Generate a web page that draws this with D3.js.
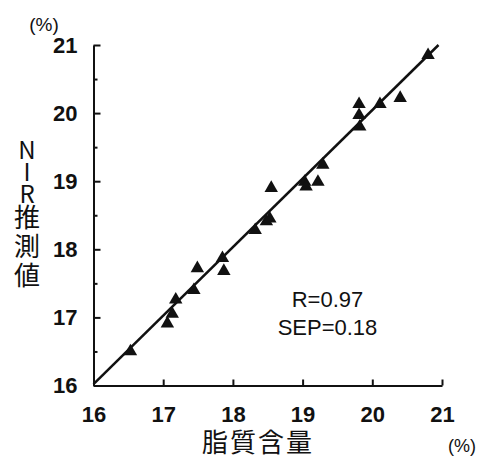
<!DOCTYPE html>
<html>
<head>
<meta charset="utf-8">
<script src="https://cdn.jsdelivr.net/npm/d3@7"></script>
<style>
  body { margin: 0; background: #fff; }
  svg { display: block; }
  .tick text { font-family: "Liberation Sans", Arial, sans-serif; font-weight: bold; font-size: 22px; fill: #111; }
  .domain, .tick line { stroke: #111; stroke-width: 2; }
</style>
</head>
<body>
<svg width="481" height="457"></svg>
<script>
// measured fat content (x) vs NIR predicted (y), %
const fatValues = [16.53, 17.06, 17.13, 17.18, 17.44, 17.49, 17.85, 17.87, 18.32, 18.48, 18.53,
  18.55, 19.03, 19.05, 19.22, 19.29, 19.81, 19.81, 19.82, 20.11, 20.40, 20.80];
const nirValues = [16.50, 16.91, 17.05, 17.26, 17.40, 17.72, 17.87, 17.68, 18.28, 18.41, 18.45,
  18.90, 18.99, 18.92, 18.99, 19.24, 20.13, 19.97, 19.80, 20.13, 20.22, 20.85];
const fitX = [16, 20.95];
const fitY = [16.02, 21.0];
const majorTicks = [16, 17, 18, 19, 20, 21];
const minorTicks = [16.5, 17.5, 18.5, 19.5, 20.5];
const statLines = ["R=0.97", "SEP=0.18"];
const yTitleParts = ["NIR", "推測値"];
const xTitle = "脂質含量";

var svg = d3.select("svg");
var width = +svg.attr("width");
var height = +svg.attr("height");

var margin = { top: 45, right: 39, bottom: 71.5, left: 93.5 };
var innerWidth = width - margin.left - margin.right;
var innerHeight = height - margin.top - margin.bottom;

const xScale = d3.scaleLinear().domain([16, 21]).range([0, innerWidth]);
const yScale = d3.scaleLinear().domain([16, 21]).range([innerHeight, 0]);

const g = svg.append("g")
  .attr("transform", `translate(${margin.left}, ${margin.top})`);

// y axis: ticks point inward, short minor ticks at the halves
g.append("g")
  .call(d3.axisLeft(yScale).tickValues(minorTicks).tickSize(-4).tickFormat(""))
  .call((a) => a.select(".domain").remove())
  .call((a) => a.selectAll(".tick text").remove());
g.append("g")
  .call(d3.axisLeft(yScale).tickValues(majorTicks).tickSizeInner(-7).tickSizeOuter(0)
    .tickPadding(16).tickFormat(d3.format("d")));

// x axis
const xAxis = g.append("g")
  .attr("transform", `translate(0, ${innerHeight})`)
  .call(d3.axisBottom(xScale).tickValues(majorTicks).tickSizeInner(-6).tickSizeOuter(0)
    .tickFormat(d3.format("d")));
xAxis.selectAll(".tick text").attr("dy", "0.35em").attr("y", 29);

// regression line
const line = d3.line()
  .x((d) => xScale(d[0]))
  .y((d) => yScale(d[1]));
g.append("path")
  .datum(d3.zip(fitX, fitY))
  .attr("d", line)
  .attr("fill", "none")
  .attr("stroke", "#111")
  .attr("stroke-width", 2.5);

// triangles
g.selectAll(".pt")
  .data(d3.zip(fatValues, nirValues))
  .enter()
  .append("path")
  .attr("class", "pt")
  .attr("d", d3.symbol().type(d3.symbolTriangle).size(78))
  .attr("transform", (d) => `translate(${xScale(d[0])}, ${yScale(d[1])})`)
  .attr("fill", "#111");

// stats
g.selectAll(".stat")
  .data(statLines)
  .enter()
  .append("text")
  .attr("class", "stat")
  .attr("x", 234)
  .attr("y", (d, i) => 262 + i * 28)
  .attr("text-anchor", "middle")
  .style("font-family", "'Liberation Sans', Arial, sans-serif")
  .style("font-size", "22px")
  .attr("fill", "#111")
  .text((d) => d);

// axis titles
svg.append("text")
  .attr("x", 258)
  .attr("y", 452)
  .attr("text-anchor", "middle")
  .style("font-family", "'Noto Sans CJK JP', sans-serif")
  .style("font-size", "26px")
  .style("letter-spacing", "2px")
  .attr("fill", "#111")
  .text(xTitle);

// vertical y title, one text
const yt = svg.append("text")
  .attr("x", 27)
  .attr("y", 138)
  .style("writing-mode", "vertical-rl")
  .style("text-orientation", "upright")
  .style("font-family", "'Noto Sans CJK JP', sans-serif")
  .attr("fill", "#111");
yt.append("tspan")
  .style("font-size", "24px")
  .style("letter-spacing", "-2px")
  .text(yTitleParts[0]);
yt.append("tspan")
  .style("font-size", "26px")
  .style("letter-spacing", "3px")
  .text(yTitleParts[1]);

// unit labels
svg.append("text")
  .attr("x", 44).attr("y", 31)
  .attr("text-anchor", "middle")
  .style("font-family", "'Liberation Sans', Arial, sans-serif")
  .style("font-size", "19px")
  .attr("fill", "#111")
  .text("(%)");
svg.append("text")
  .attr("x", 462).attr("y", 452)
  .attr("text-anchor", "middle")
  .style("font-family", "'Liberation Sans', Arial, sans-serif")
  .style("font-size", "18px")
  .attr("fill", "#111")
  .text("(%)");
</script>
</body>
</html>
